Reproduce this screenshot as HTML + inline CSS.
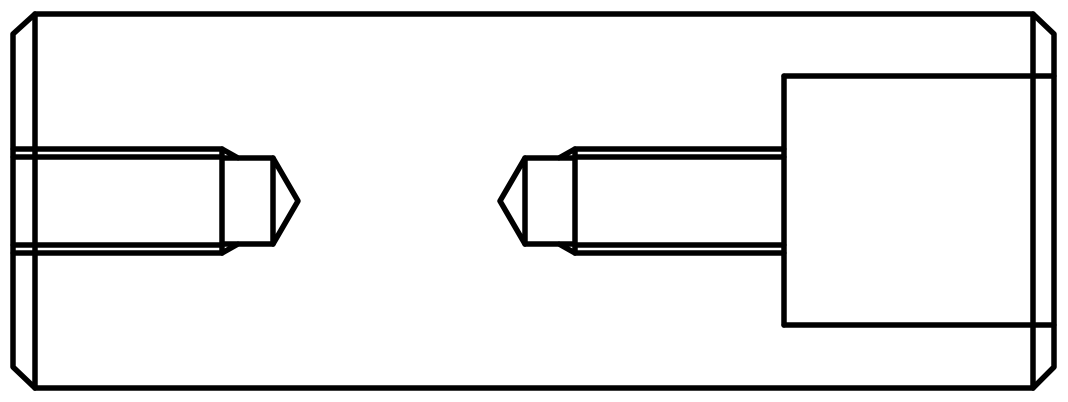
<!DOCTYPE html>
<html><head><meta charset="utf-8"><style>html,body{margin:0;padding:0;background:#fff}svg{display:block}</style></head>
<body>
<svg width="1068" height="402" viewBox="0 0 1068 402" fill="none" stroke="#000" stroke-width="5.5" stroke-linejoin="round" stroke-linecap="round">
<g>
<line x1="35" y1="14" x2="1033" y2="14"/>
<line x1="35" y1="388" x2="1033" y2="388"/>
<line x1="35" y1="14" x2="35" y2="388"/>
<line x1="1033" y1="14" x2="1033" y2="388"/>
</g>
<g>
<polyline points="35,14 13,34 13,367 35,388"/>
</g>
<g>
<polyline points="1033,14 1054,34 1054,367 1033,388"/>
</g>
<g>
<line x1="13" y1="149" x2="222" y2="149"/>
<line x1="13" y1="157" x2="222" y2="157"/>
<line x1="13" y1="245" x2="222" y2="245"/>
<line x1="13" y1="253" x2="222" y2="253"/>
<line x1="222" y1="149" x2="222" y2="253"/>
<line x1="222" y1="149" x2="238" y2="158"/>
<line x1="222" y1="253" x2="238" y2="244"/>
<line x1="222" y1="158" x2="273" y2="158"/>
<line x1="222" y1="244" x2="273" y2="244"/>
<line x1="273" y1="158" x2="273" y2="244"/>
<polyline points="273,158 298,201 273,244"/>
</g>
<g>
<line x1="575" y1="149" x2="784" y2="149"/>
<line x1="575" y1="157" x2="784" y2="157"/>
<line x1="575" y1="245" x2="784" y2="245"/>
<line x1="575" y1="253" x2="784" y2="253"/>
<line x1="575" y1="149" x2="575" y2="253"/>
<line x1="575" y1="149" x2="559" y2="158"/>
<line x1="575" y1="253" x2="559" y2="244"/>
<line x1="525" y1="158" x2="575" y2="158"/>
<line x1="525" y1="244" x2="575" y2="244"/>
<line x1="525" y1="158" x2="525" y2="244"/>
<polyline points="525,158 500,201 525,244"/>
</g>
<g>
<line x1="784" y1="76" x2="1054" y2="76"/>
<line x1="784" y1="325" x2="1054" y2="325"/>
<line x1="784" y1="76" x2="784" y2="325"/>
</g>
</svg>
</body></html>
